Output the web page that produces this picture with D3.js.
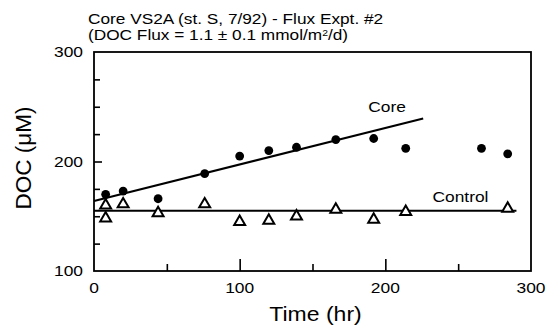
<!DOCTYPE html>
<html>
<head>
<meta charset="utf-8">
<script src="https://cdn.jsdelivr.net/npm/d3@7"></script>
<style>
  html, body { margin: 0; padding: 0; background: #fff; }
  svg { display: block; }
  text { font-family: "Liberation Sans", Arial, Helvetica, sans-serif; fill: #000; }
</style>
</head>
<body>
<svg id="chart" width="549" height="331"></svg>
<script>
// Core incubation (filled circles) and control (open triangles), DOC vs time
const coreTime = [8, 20, 44, 76, 100, 120, 139, 166, 192, 214, 266, 284];
const coreDOC  = [170, 173, 166, 189, 205, 210, 213, 220, 221, 212, 212, 207];

const controlTime = [8, 8, 20, 44, 76, 100, 120, 139, 166, 192, 214, 284];
const controlDOC  = [160, 148, 161, 153, 161, 145, 146, 150, 156, 147, 154, 157];

// Linear fits: [intercept, slope, last time covered]
const coreFit    = [164, 0.333, 226];
const controlFit = [155, 0, 290];

const xTicks = [0, 100, 200, 300];
const xMinorTicks = [50, 150, 250];
const yTicks = [100, 200, 300];
const yMinorTicks = [125, 150, 175, 225, 250, 275];

const titleLines = ["Core VS2A (st. S, 7/92) - Flux Expt. #2"];

const svg = d3.select("#chart");
const plot = { left: 94, right: 531, top: 52, bottom: 271 };

const x = d3.scaleLinear().domain([0, 300]).range([plot.left, plot.right]);
const y = d3.scaleLinear().domain([100, 300]).range([plot.bottom, plot.top]);

// text widened slightly along x
function label(px, py, str, size, anchor, sx) {
  const g = svg.append("g").attr("transform", `translate(${px},${py}) scale(${sx},1)`);
  return g.append("text").attr("font-size", size).attr("text-anchor", anchor).text(str);
}

// frame
svg.append("rect")
  .attr("x", plot.left).attr("y", plot.top)
  .attr("width", plot.right - plot.left).attr("height", plot.bottom - plot.top)
  .attr("fill", "none").attr("stroke", "#000").attr("stroke-width", 1.8);

// inward ticks via d3 axes
const xAxis = d3.axisTop(x).tickValues(xTicks.slice(1, -1)).tickSize(12).tickFormat("");
svg.append("g").attr("transform", `translate(0,${plot.bottom})`).call(xAxis)
  .call(g => g.select(".domain").remove());
const xMinor = d3.axisTop(x).tickValues(xMinorTicks).tickSize(7).tickFormat("");
svg.append("g").attr("transform", `translate(0,${plot.bottom})`).call(xMinor)
  .call(g => g.select(".domain").remove());

const yAxis = d3.axisRight(y).tickValues(yTicks.slice(1, -1)).tickSize(8).tickFormat("");
svg.append("g").attr("transform", `translate(${plot.left},0)`).call(yAxis)
  .call(g => g.select(".domain").remove());
const yMinor = d3.axisRight(y).tickValues(yMinorTicks).tickSize(6).tickFormat("");
svg.append("g").attr("transform", `translate(${plot.left},0)`).call(yMinor)
  .call(g => g.select(".domain").remove());

svg.selectAll(".tick line").attr("stroke", "#000").attr("stroke-width", 1.6);

// tick labels
xTicks.forEach(t => label(x(t), 293, String(t), 14.5, "middle", 1.2));
yTicks.forEach(t => label(plot.left - 11, y(t) + 5, String(t), 14.5, "end", 1.2));

// axis titles
label((plot.left + plot.right) / 2 + 3, 321, "Time (hr)", 20, "middle", 1.15);
svg.append("text")
  .attr("transform", `translate(31,158) rotate(-90)`)
  .attr("font-size", 22.5).attr("text-anchor", "middle")
  .text("DOC (\u03BCM)");

// title
label(88, 24, titleLines[0], 15, "start", 1.15);
const t2 = label(88, 40, "", 15, "start", 1.15);
t2.append("tspan").text("(DOC Flux = 1.1 \u00B1 0.1 mmol/m");
t2.append("tspan").attr("font-size", 9).attr("dy", -4.5).text("2");
t2.append("tspan").attr("dy", 4.5).text("/d)");

// fit lines
const line = d3.line().x(d => x(d[0])).y(d => y(d[1]));
[coreFit, controlFit].forEach(f => {
  svg.append("path")
    .attr("d", line([[0, f[0]], [f[2], f[0] + f[1] * f[2]]]))
    .attr("fill", "none").attr("stroke", "#000").attr("stroke-width", 2);
});

// control points: open triangles
const tri = d3.symbol().type(d3.symbolTriangle).size(52);
svg.append("g").selectAll("path")
  .data(d3.zip(controlTime, controlDOC))
  .join("path")
  .attr("d", tri)
  .attr("transform", d => `translate(${x(d[0])},${y(d[1])})`)
  .attr("fill", "#fff").attr("stroke", "#000").attr("stroke-width", 2);

// core points: filled circles
svg.append("g").selectAll("circle")
  .data(d3.zip(coreTime, coreDOC))
  .join("circle")
  .attr("cx", d => x(d[0])).attr("cy", d => y(d[1]))
  .attr("r", 4.4).attr("fill", "#000");

// series labels
label(387, 111.5, "Core", 15.5, "middle", 1.12);
label(460.5, 201.5, "Control", 15.5, "middle", 1.12);
</script>
</body>
</html>
